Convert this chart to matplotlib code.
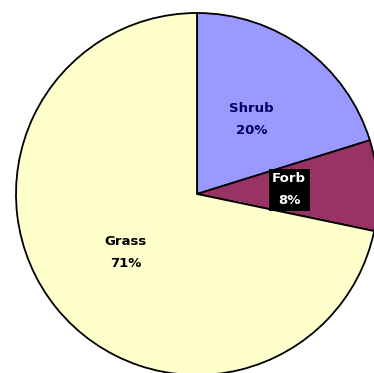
import matplotlib
matplotlib.use("Agg")
import matplotlib.pyplot as plt

# data
categories = ["Shrub", "Forb", "Grass"]
values = [20, 8, 71]
colors = ["#9999FF", "#993366", "#FFFFCC"]
text_colors = ["#000066", "white", "black"]

fig = plt.figure(figsize=(3.74, 3.73), dpi=100)
ax = fig.add_axes([0, 0, 1, 1])

labels = [f"{c}\n{v}%" for c, v in zip(categories, values)]
wedges, texts = ax.pie(
    values,
    labels=labels,
    colors=colors,
    startangle=90,
    counterclock=False,
    labeldistance=0.51,
    radius=1.0,
    center=(0, 0),
    wedgeprops=dict(edgecolor="black", linewidth=1.3),
    textprops=dict(fontsize=9.5, fontweight="bold", ha="center", va="center",
                   linespacing=1.9),
)

for t, tc in zip(texts, text_colors):
    t.set_color(tc)
    t.set_ha("center")
texts[1].set_bbox(dict(facecolor="black", edgecolor="none", pad=2.5))

# pie centre sits at (197, 194) px with radius ~181 px; right side gets clipped
ax.set_xlim(-197 / 181, (374 - 197) / 181)
ax.set_ylim(-(373 - 194) / 181, 194 / 181)
ax.set_aspect("auto")
ax.axis("off")

fig.savefig("out.png", dpi=100, facecolor="white")
